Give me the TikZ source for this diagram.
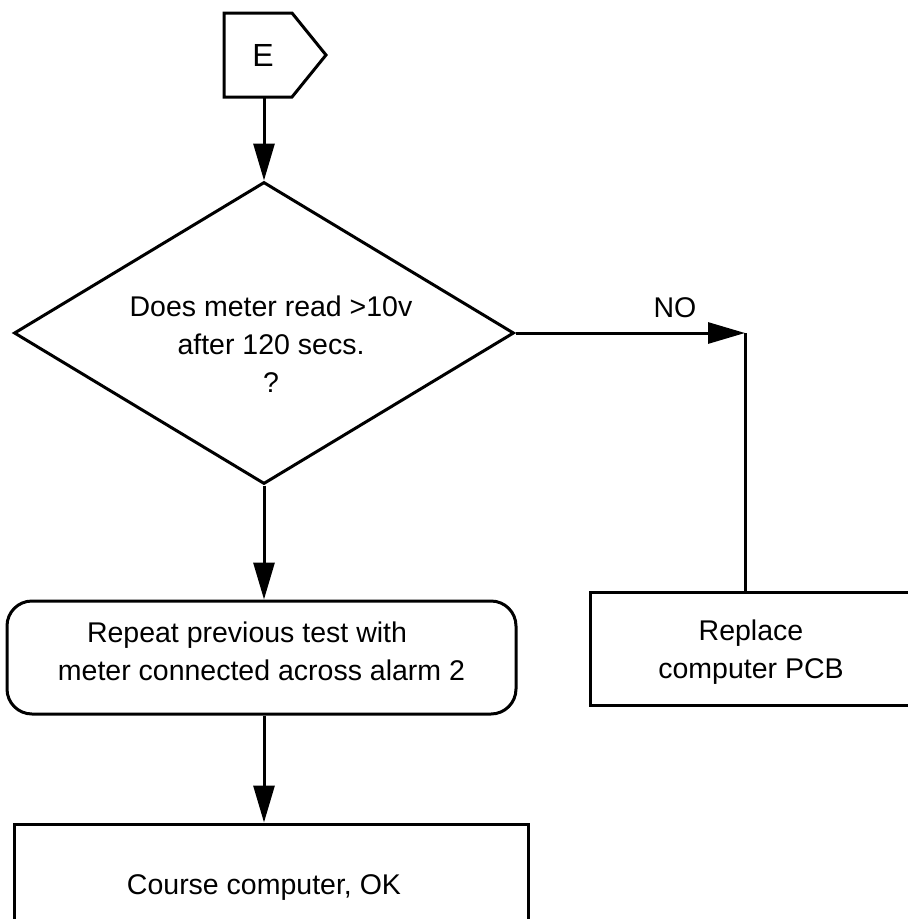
\documentclass[tikz,border=0pt]{standalone}
\usepackage{fontspec}
\setmainfont{Liberation Sans}
\usetikzlibrary{arrows.meta,shapes.geometric}
\begin{document}
\begin{tikzpicture}[x=1pt,y=-1pt,
  ln/.style={line width=3pt},
  arr/.style={ln,-{Triangle[length=37pt,width=21pt]}},
  box/.style={draw,ln,rectangle,inner sep=0pt},
  txt/.style={font=\fontsize{28.5pt}{38pt}\selectfont,align=center,inner sep=0pt},
]
\clip (0,0) rectangle (908,919);
\fill[white] (0,0) rectangle (908,919);
% off-page connector E
\draw[ln] (224,13) -- (292,13) -- (326,55) -- (292,97) -- (224,97) -- cycle;
\node[txt,font=\fontsize{32pt}{38pt}\selectfont] (E) at (263,55) {E};
\coordinate (Eb) at (264,97);
% decision
\node[diamond,draw,ln,minimum width=500pt,minimum height=302pt,inner sep=0pt] (dia) at (264,333) {};
\node[txt] (q) at (271,344) {Does meter read >10v\\after 120 secs.\\?};
% repeat box
\node[box,rounded corners=25pt,minimum width=509pt,minimum height=113pt] (rep) at (261.5,657.5) {};
\node[txt] (reptxt) at (261.5,651) {Repeat previous test with\hspace*{29pt}\mbox{}\\meter connected across alarm 2};
% replace box
\node[box,minimum width=324pt,minimum height=113pt] (pcb) at (752,648.5) {};
\node[txt] (pcbtxt) at (751,652) {Replace\\computer PCB};
% final box
\node[box,minimum width=514pt,minimum height=126pt] (ok) at (271,887) {};
\node[txt] (oktxt) at (264,887) {Course computer, OK};
% connectors
\coordinate (c) at (745,333);
\draw[arr] (Eb) -- (dia.north);
\draw[arr] (dia.east) -- (c);
\draw[ln] (c) -- (c |- pcb.north);
\node[txt] (no) at (675,308) {NO};
\draw[arr] (dia.south) -- (dia.south |- rep.north);
\draw[arr] (rep.south -| dia.south) -- (dia.south |- ok.north);
\end{tikzpicture}
\end{document}
